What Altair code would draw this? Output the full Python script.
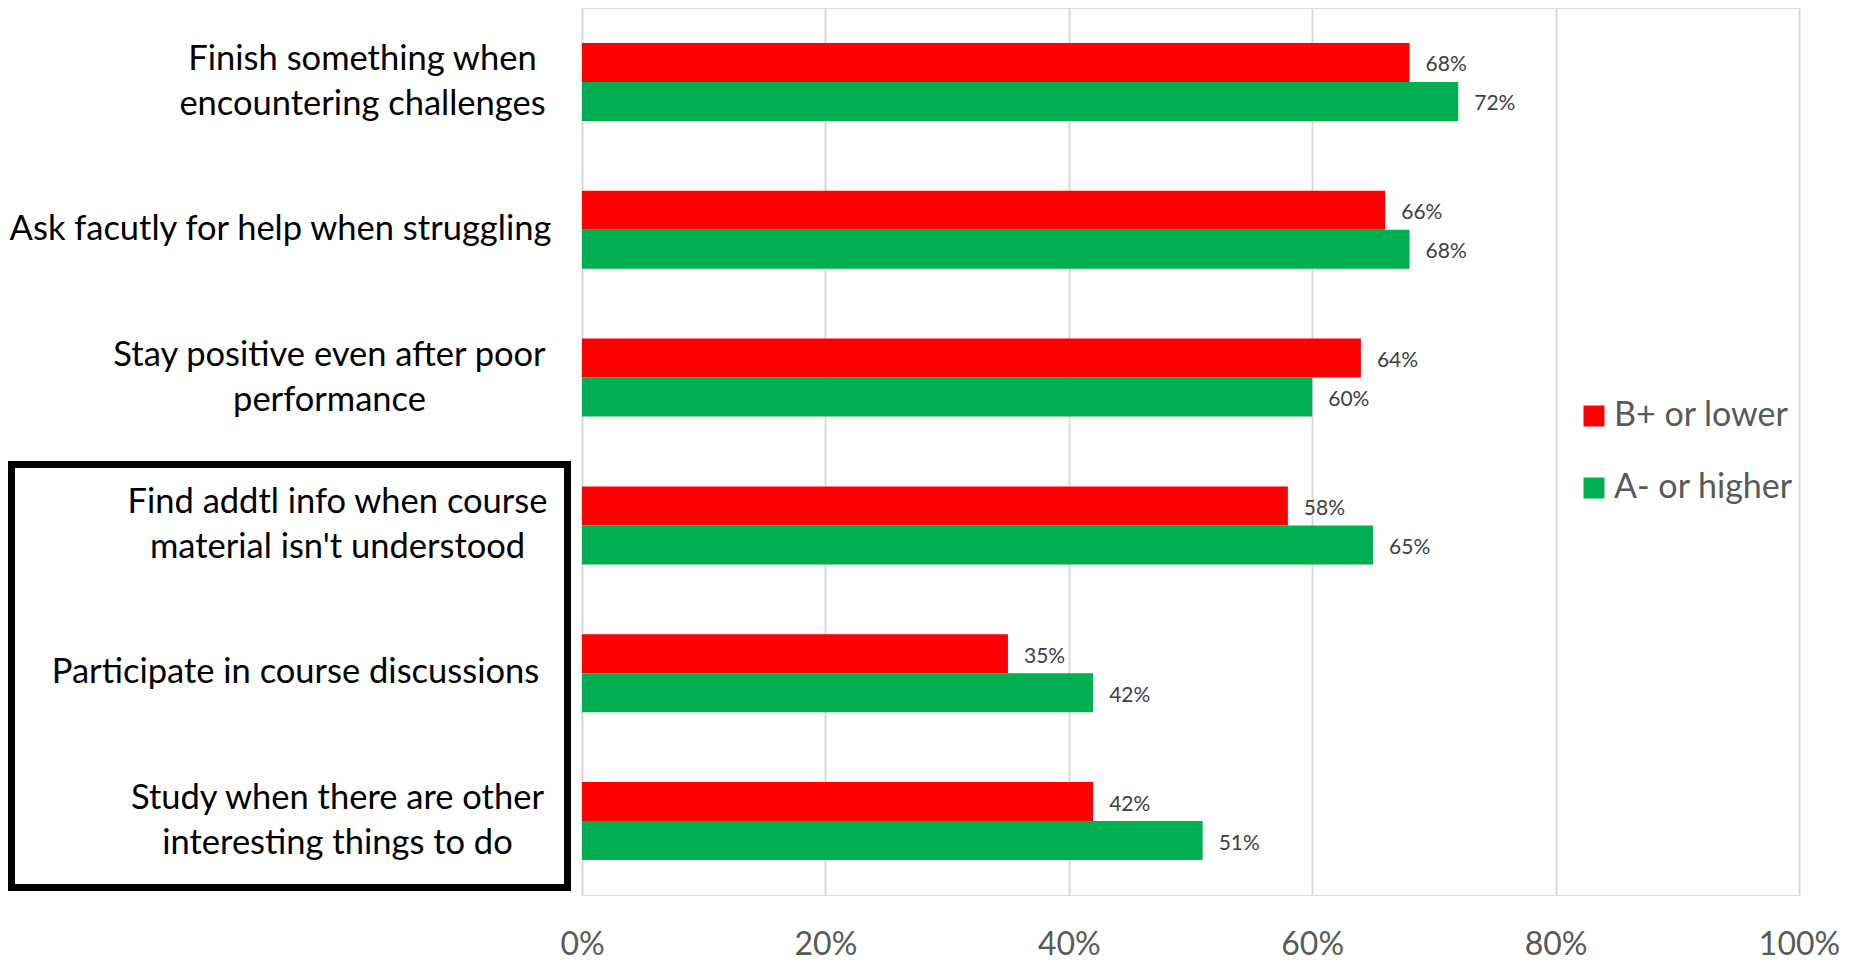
import altair as alt
import pandas as pd

categories = [
    "Finish something when|encountering challenges",
    "Ask facutly for help when struggling",
    "Stay positive even after poor|performance",
    "Find addtl info when course|material isn't understood",
    "Participate in course discussions",
    "Study when there are other|interesting things to do",
]
series = ["B+ or lower", "A- or higher"]
b_plus_or_lower = [0.68, 0.66, 0.64, 0.58, 0.35, 0.42]
a_minus_or_higher = [0.72, 0.68, 0.60, 0.65, 0.42, 0.51]
x_ticks = [0, 0.2, 0.4, 0.6, 0.8, 1.0]

colors = ["#FF0000", "#00B050"]
# horizontal distance of each label block's centre from the axis (style)
label_pad = [220, 302, 253, 245, 287, 245]

rows = []
for c, a, b in zip(categories, b_plus_or_lower, a_minus_or_higher):
    rows.append({"category": c, "series": series[0], "value": a})
    rows.append({"category": c, "series": series[1], "value": b})
df = pd.DataFrame(rows)

FONT = "Lato"
W, H = 1217, 887

pad_cond = {
    "condition": [
        {"test": f'datum.value === "{c}"', "value": p}
        for c, p in zip(categories, label_pad)
    ],
    "value": 250,
}
offset_cond = {
    "condition": {"test": "indexof(datum.value, '|') >= 0", "value": -22},
    "value": 0,
}

y_enc = alt.Y(
    "category:N",
    sort=categories,
    scale=alt.Scale(paddingInner=0.472, paddingOuter=0.236),
    axis=alt.Axis(
        title=None,
        domain=False,
        ticks=False,
        labelExpr="split(datum.label, '|')",
        labelAlign="center",
        labelBaseline="middle",
        labelPadding=pad_cond,
        labelOffset=offset_cond,
        labelFont=FONT,
        labelFontSize=34.5,
        labelLineHeight=45,
        labelColor="#000000",
        labelLimit=0,
    ),
)
yoff = alt.YOffset("series:N", sort=series, scale=alt.Scale(paddingInner=0, paddingOuter=0))
x_enc = alt.X(
    "value:Q",
    scale=alt.Scale(domain=[0, 1], nice=False),
    axis=alt.Axis(
        title=None,
        values=x_ticks,
        format=".0%",
        domain=False,
        ticks=False,
        grid=True,
        gridColor="#D9D9D9",
        gridWidth=2,
        labelFlush=False,
        labelFont=FONT,
        labelFontSize=32,
        labelColor="#595959",
        labelPadding=34,
    ),
)

bars = alt.Chart(df).mark_bar().encode(
    y=y_enc,
    yOffset=yoff,
    x=x_enc,
    color=alt.Color(
        "series:N",
        sort=series,
        scale=alt.Scale(domain=series, range=colors),
        legend=alt.Legend(
            title=None,
            orient="none",
            legendX=995,
            legendY=391,
            direction="vertical",
            symbolType="square",
            symbolSize=441,
            symbolStrokeWidth=0,
            labelFont=FONT,
            labelFontSize=34,
            labelColor="#595959",
            labelOffset=3,
            labelLimit=0,
            rowPadding=38,
            padding=0,
        ),
    ),
)

labels = alt.Chart(df).mark_text(
    align="left", baseline="middle", dx=16, dy=3, font=FONT, fontSize=21, color="#404040"
).encode(
    y=alt.Y("category:N", sort=categories),
    yOffset=alt.YOffset("series:N", sort=series),
    x="value:Q",
    text=alt.Text("value:Q", format=".0%"),
)

box = alt.Chart(pd.DataFrame({"k": [0]})).mark_rect(
    fillOpacity=0, stroke="#000000", strokeWidth=7
).encode(
    x=alt.value(-570.5), x2=alt.value(-14.5), y=alt.value(456.5), y2=alt.value(879.5)
)

chart = alt.layer(bars, labels, box).properties(
    width=W,
    height=H,
    autosize=alt.AutoSizeParams(type="none"),
    padding={"left": 574, "top": 0, "right": 40, "bottom": 70},
).configure_view(stroke=None).configure(background="white")

chart.save("out.html", embed_options={"renderer": "svg", "actions": False})
